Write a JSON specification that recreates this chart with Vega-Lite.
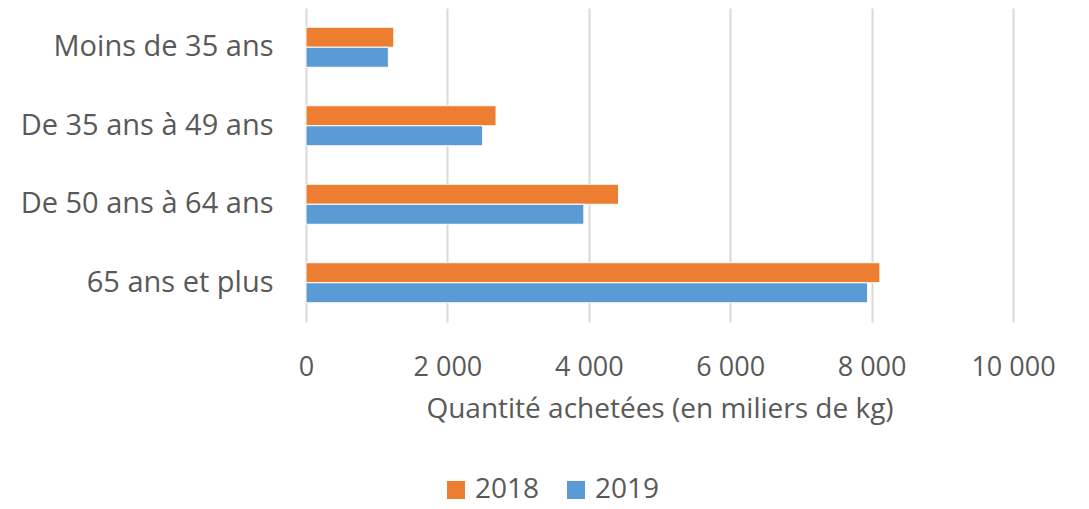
{
  "$schema": "https://vega.github.io/schema/vega-lite/v6.json",
  "autosize": {"type": "none"},
  "padding": {"left": 306, "top": 8, "right": 76, "bottom": 187},
  "width": 707,
  "height": 314,
  "background": "white",
  "config": {"view": {"stroke": null}, "font": "Open Sans"},
  "data": {"values": [
    {"age": "Moins de 35 ans", "annee": "2018", "q": 1242},
    {"age": "Moins de 35 ans", "annee": "2019", "q": 1165},
    {"age": "De 35 ans à 49 ans", "annee": "2018", "q": 2688},
    {"age": "De 35 ans à 49 ans", "annee": "2019", "q": 2499},
    {"age": "De 50 ans à 64 ans", "annee": "2018", "q": 4420},
    {"age": "De 50 ans à 64 ans", "annee": "2019", "q": 3930},
    {"age": "65 ans et plus", "annee": "2018", "q": 8117},
    {"age": "65 ans et plus", "annee": "2019", "q": 7943}
  ]},
  "mark": {"type": "bar", "stroke": "white", "strokeWidth": 1},
  "encoding": {
    "y": {"field": "age", "type": "nominal",
      "sort": ["Moins de 35 ans", "De 35 ans à 49 ans", "De 50 ans à 64 ans", "65 ans et plus"],
      "scale": {"paddingInner": 0.49, "paddingOuter": 0.245},
      "axis": {"title": null, "domain": false, "ticks": false, "grid": false, "labelLimit": 400,
        "labelFontSize": 29, "labelColor": "#595959", "labelPadding": 33, "labelFont": "Open Sans"}},
    "yOffset": {"field": "annee", "type": "nominal", "sort": ["2018", "2019"]},
    "x": {"field": "q", "type": "quantitative",
      "scale": {"domain": [0, 10000], "nice": false},
      "axis": {"values": [0, 2000, 4000, 6000, 8000, 10000], "format": ",.0f", "labelExpr": "replace(datum.label, ',', ' ')",
        "domain": false, "ticks": false, "grid": true, "gridColor": "#d9d9d9", "gridWidth": 2, "labelFlush": false,
        "labelFontSize": 27, "labelColor": "#595959", "labelPadding": 32, "labelFont": "Open Sans",
        "title": "Quantité achetées (en miliers de kg)", "titleFontSize": 28, "titleFontWeight": "normal",
        "titleColor": "#595959", "titlePadding": 15, "titleFont": "Open Sans"}},
    "color": {"field": "annee", "type": "nominal",
      "scale": {"domain": ["2018", "2019"], "range": ["#ED7D31", "#5B9BD5"]},
      "legend": {"title": null, "orient": "none", "direction": "horizontal", "legendX": 136, "legendY": 468, "padding": 0,
        "symbolType": "square", "symbolSize": 324, "symbolStrokeWidth": 0, "labelFontSize": 28, "labelColor": "#595959",
        "labelFont": "Open Sans", "columnPadding": 22, "labelOffset": 5}}
  }
}
